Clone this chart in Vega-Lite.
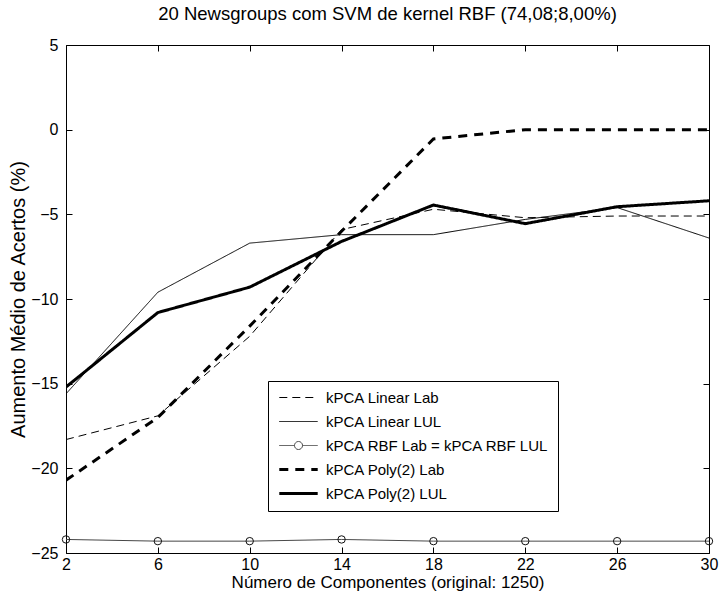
{
  "$schema": "https://vega.github.io/schema/vega-lite/v6.json",
  "width": 643,
  "height": 508,
  "autosize": {"type": "none"},
  "padding": {"left": 66, "top": 45, "right": 13, "bottom": 53},
  "background": "white",
  "title": {
    "text": "20 Newsgroups com SVM de kernel RBF (74,08;8,00%)",
    "font": "Liberation Sans",
    "fontSize": 18.5,
    "fontWeight": "normal",
    "color": "black",
    "offset": 14
  },
  "config": {
    "view": {"stroke": "black", "strokeWidth": 1},
    "axis": {
      "grid": false,
      "domain": false,
      "tickColor": "black",
      "tickWidth": 1,
      "labelFlush": false,
      "labelFont": "Liberation Sans",
      "labelFontSize": 16,
      "labelColor": "black",
      "titleFont": "Liberation Sans",
      "titleFontSize": 17,
      "titleFontWeight": "normal",
      "titleColor": "black"
    }
  },
  "data": {
    "values": [
      {"series": "kPCA Linear Lab", "x": 2, "y": -18.3},
      {"series": "kPCA Linear Lab", "x": 6, "y": -16.9},
      {"series": "kPCA Linear Lab", "x": 10, "y": -12.2},
      {"series": "kPCA Linear Lab", "x": 14, "y": -5.9},
      {"series": "kPCA Linear Lab", "x": 18, "y": -4.7},
      {"series": "kPCA Linear Lab", "x": 22, "y": -5.2},
      {"series": "kPCA Linear Lab", "x": 26, "y": -5.1},
      {"series": "kPCA Linear Lab", "x": 30, "y": -5.1},
      {"series": "kPCA Linear LUL", "x": 2, "y": -15.6},
      {"series": "kPCA Linear LUL", "x": 6, "y": -9.6},
      {"series": "kPCA Linear LUL", "x": 10, "y": -6.7},
      {"series": "kPCA Linear LUL", "x": 14, "y": -6.2},
      {"series": "kPCA Linear LUL", "x": 18, "y": -6.2},
      {"series": "kPCA Linear LUL", "x": 22, "y": -5.3},
      {"series": "kPCA Linear LUL", "x": 26, "y": -4.6},
      {"series": "kPCA Linear LUL", "x": 30, "y": -6.4},
      {"series": "kPCA RBF Lab = kPCA RBF LUL", "x": 2, "y": -24.2},
      {"series": "kPCA RBF Lab = kPCA RBF LUL", "x": 6, "y": -24.3},
      {"series": "kPCA RBF Lab = kPCA RBF LUL", "x": 10, "y": -24.3},
      {"series": "kPCA RBF Lab = kPCA RBF LUL", "x": 14, "y": -24.2},
      {"series": "kPCA RBF Lab = kPCA RBF LUL", "x": 18, "y": -24.3},
      {"series": "kPCA RBF Lab = kPCA RBF LUL", "x": 22, "y": -24.3},
      {"series": "kPCA RBF Lab = kPCA RBF LUL", "x": 26, "y": -24.3},
      {"series": "kPCA RBF Lab = kPCA RBF LUL", "x": 30, "y": -24.3},
      {"series": "kPCA Poly(2) Lab", "x": 2, "y": -20.7},
      {"series": "kPCA Poly(2) Lab", "x": 6, "y": -17.0},
      {"series": "kPCA Poly(2) Lab", "x": 10, "y": -11.6},
      {"series": "kPCA Poly(2) Lab", "x": 14, "y": -6.0},
      {"series": "kPCA Poly(2) Lab", "x": 18, "y": -0.55},
      {"series": "kPCA Poly(2) Lab", "x": 22, "y": 0.0},
      {"series": "kPCA Poly(2) Lab", "x": 26, "y": 0.0},
      {"series": "kPCA Poly(2) Lab", "x": 30, "y": 0.0},
      {"series": "kPCA Poly(2) LUL", "x": 2, "y": -15.2},
      {"series": "kPCA Poly(2) LUL", "x": 6, "y": -10.8},
      {"series": "kPCA Poly(2) LUL", "x": 10, "y": -9.3},
      {"series": "kPCA Poly(2) LUL", "x": 14, "y": -6.6},
      {"series": "kPCA Poly(2) LUL", "x": 18, "y": -4.45},
      {"series": "kPCA Poly(2) LUL", "x": 22, "y": -5.55},
      {"series": "kPCA Poly(2) LUL", "x": 26, "y": -4.55},
      {"series": "kPCA Poly(2) LUL", "x": 30, "y": -4.2}
    ]
  },
  "layer": [
    {
      "layer": [
        {
          "mark": {"type": "line", "clip": true},
          "encoding": {
            "x": {
              "field": "x",
              "type": "quantitative",
              "scale": {"domain": [2, 30], "nice": false, "zero": false},
              "axis": {
                "orient": "bottom",
                "values": [2, 6, 10, 14, 18, 22, 26, 30],
                "title": "Número de Componentes (original: 1250)",
                "offset": -6,
                "tickSize": 6,
                "labelPadding": 3,
                "titlePadding": 2
              }
            },
            "y": {
              "field": "y",
              "type": "quantitative",
              "scale": {"domain": [-25, 5], "nice": false, "zero": false},
              "axis": {
                "orient": "left",
                "values": [-25, -20, -15, -10, -5, 0, 5],
                "title": "Aumento Médio de Acertos (%)",
                "titleFontSize": 20,
                "offset": -6,
                "tickSize": 6,
                "labelPadding": 8,
                "titlePadding": 2
              }
            },
            "color": {
              "field": "series",
              "type": "nominal",
              "scale": {
                "domain": ["kPCA Linear Lab", "kPCA Linear LUL", "kPCA RBF Lab = kPCA RBF LUL", "kPCA Poly(2) Lab", "kPCA Poly(2) LUL"],
                "range": ["black", "black", "#444444", "black", "black"]
              },
              "legend": {
                "title": null,
                "orient": "none",
                "legendX": 202,
                "legendY": 336,
                "fillColor": "white",
                "strokeColor": "black",
                "padding": 9,
                "labelFont": "Liberation Sans",
                "labelFontSize": 15,
                "labelColor": "black",
                "labelLimit": 400,
                "symbolSize": 144,
                "symbolType": "M-3.2,0H3.2",
                "symbolOffset": 14,
                "labelOffset": 20,
                "rowPadding": 8,
                "encode": {
                  "symbols": {
                    "update": {
                      "shape": {"signal": "datum.value === 'kPCA RBF Lab = kPCA RBF LUL' ? 'M-3.2,0H-0.667A0.667,0.667,0,1,1,0.667,0A0.667,0.667,0,1,1,-0.667,0M0.667,0H3.2' : 'M-3.2,0H3.2'"},
                      "fill": {"value": "transparent"}
                    }
                  }
                }
              }
            },
            "strokeDash": {
              "field": "series",
              "type": "nominal",
              "scale": {
                "domain": ["kPCA Linear Lab", "kPCA Linear LUL", "kPCA RBF Lab = kPCA RBF LUL", "kPCA Poly(2) Lab", "kPCA Poly(2) LUL"],
                "range": [[8, 5], [1, 0], [1, 0], [9, 7], [1, 0]]
              }
            },
            "strokeWidth": {
              "field": "series",
              "type": "nominal",
              "scale": {
                "type": "ordinal",
                "domain": ["kPCA Linear Lab", "kPCA Linear LUL", "kPCA RBF Lab = kPCA RBF LUL", "kPCA Poly(2) Lab", "kPCA Poly(2) LUL"],
                "range": [1, 1, 1, 3, 3]
              }
            }
          }
        },
        {
          "transform": [{"filter": "datum.series === 'kPCA RBF Lab = kPCA RBF LUL'"}],
          "mark": {"type": "point", "shape": "circle", "filled": false, "opacity": 1, "size": 55, "stroke": "#111111", "strokeWidth": 1},
          "encoding": {
            "x": {"field": "x", "type": "quantitative"},
            "y": {"field": "y", "type": "quantitative"}
          }
        }
      ]
    },
    {
      "mark": {"type": "point", "opacity": 0},
      "encoding": {
        "x": {
          "field": "x",
          "type": "quantitative",
          "scale": {"domain": [2, 30], "nice": false, "zero": false},
          "axis": {"orient": "top", "values": [2, 6, 10, 14, 18, 22, 26, 30], "labels": false, "title": null, "offset": -6, "tickSize": 6}
        },
        "y": {
          "field": "y",
          "type": "quantitative",
          "scale": {"domain": [-25, 5], "nice": false, "zero": false},
          "axis": {"orient": "right", "values": [-25, -20, -15, -10, -5, 0, 5], "labels": false, "title": null, "offset": -6, "tickSize": 6}
        }
      }
    }
  ],
  "resolve": {"axis": {"x": "independent", "y": "independent"}}
}
